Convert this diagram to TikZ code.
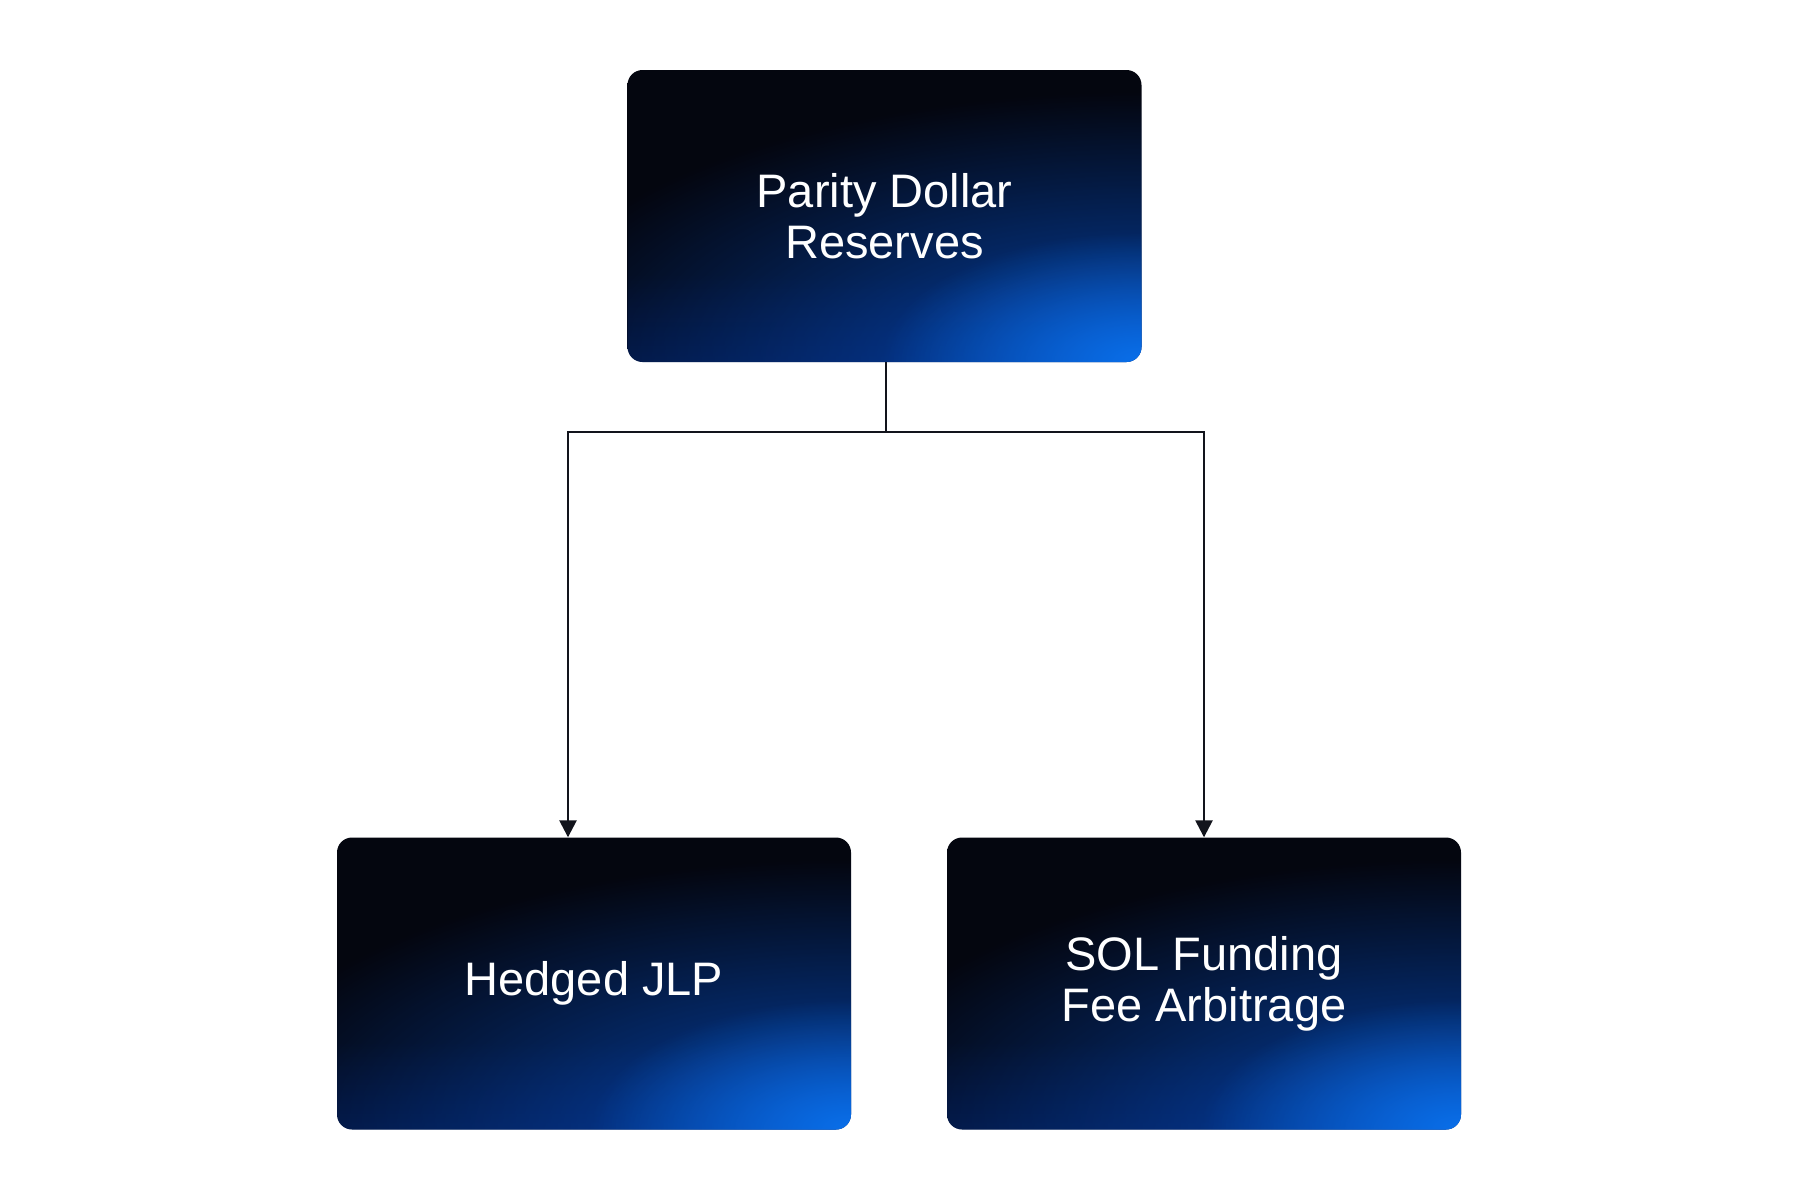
\documentclass[tikz,border=0pt]{standalone}
\usepackage{fontspec}
\setmainfont{Liberation Sans}
\usetikzlibrary{arrows.meta,fadings}
\definecolor{boxdark}{HTML}{04060F}
\definecolor{boxnavy}{HTML}{021A58}
\definecolor{glowblue}{HTML}{0652D0}
\definecolor{glowbright}{HTML}{0A74F0}
\definecolor{linecol}{HTML}{12141C}
\pgfdeclareverticalshading{boxv}{100bp}{color(0bp)=(boxnavy); color(14bp)=(boxnavy!80!boxdark); color(40bp)=(boxdark); color(100bp)=(boxdark)}
\tikzfading[name=glowfade, inner color=transparent!0, outer color=transparent!100]
\tikzset{
  gbox/.style={rounded corners=15pt, minimum width=514pt, minimum height=292pt,
    inner sep=0pt, text=white, align=center,
    font=\fontsize{47}{51}\selectfont,
    path picture={
      \shade[shading=boxv] (path picture bounding box.south west) rectangle (path picture bounding box.north east);
      \fill[glowblue, path fading=glowfade, fill opacity=0.8] (path picture bounding box.south east) ellipse [x radius=640pt, y radius=270pt];
      \fill[glowbright, path fading=glowfade, fill opacity=0.9] (path picture bounding box.south east) ellipse [x radius=260pt, y radius=130pt];
    }},
  conn/.style={draw=linecol, line width=2.6pt},
  arr/.style={conn, -{Triangle[length=17pt,width=17pt]}}
}
\begin{document}
\begin{tikzpicture}[x=1pt,y=-1pt]
\useasboundingbox (0,0) rectangle (1800,1200);
\node[gbox] (top) at (884.5,216) {Parity Dollar\\Reserves};
\node[gbox] (left) at (594,983.5) {Hedged JLP};
\node[gbox] (right) at (1204,983.5) {SOL Funding\\Fee Arbitrage};
\coordinate (split) at (886,432);
\draw[conn] (top.south -| split) -- (split);
\draw[arr] (split) -| ([xshift=-26pt]left.north);
\draw[arr] (split) -| (right.north);
\end{tikzpicture}
\end{document}
